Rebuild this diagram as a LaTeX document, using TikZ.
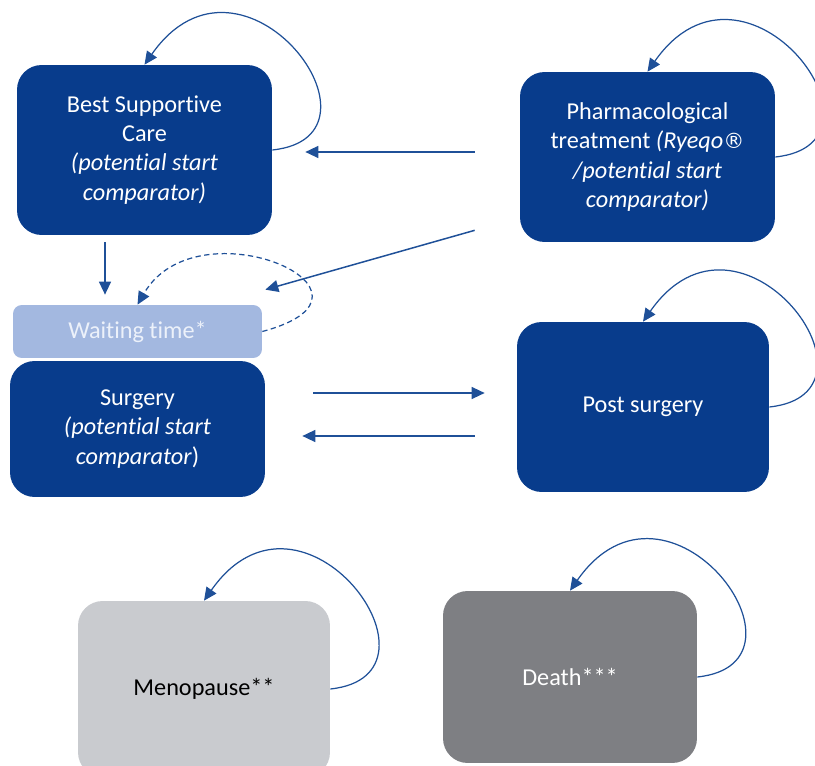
\documentclass[tikz,border=0pt]{standalone}
\usepackage{fontspec}
\setmainfont{Carlito}[Ligatures=NoCommon]
\newfontfamily\regfont{DejaVu Sans}
\usepackage{tikz}
\usetikzlibrary{arrows.meta,calc}
\definecolor{boxblue}{RGB}{8,60,140}
\definecolor{lineblue}{RGB}{31,80,152}
\definecolor{waitblue}{RGB}{163,184,224}
\definecolor{waittext}{RGB}{236,241,250}
\definecolor{menogrey}{RGB}{201,203,207}
\definecolor{deathgrey}{RGB}{126,127,131}
\tikzset{
  font={\fontsize{13.8pt}{16.6pt}\selectfont}}

\begin{document}
\begin{tikzpicture}[x=0.02cm,y=0.02cm]
\tikzstyle{every node}+=[inner sep=0pt]
\tikzstyle{statebox}=[fill=boxblue, rounded corners=14pt, text=white, align=center, minimum width=5.1cm, minimum height=3.4cm]
\tikzstyle{waitbox}=[fill=waitblue, rounded corners=5pt, text=waittext, align=center, minimum width=4.98cm, minimum height=1.06cm]
\tikzstyle{flow}=[lineblue, line width=0.85pt, -{Triangle[length=7.4pt,width=6.8pt]}]
\tikzstyle{selfloop}=[flow, line width=0.7pt, out=6, in=55, out looseness=2.15, in looseness=2.84]
\tikzstyle{waitloop}=[flow, line width=0.7pt, dash pattern=on 3pt off 2pt, out=15, in=60, out looseness=3.0, in looseness=2.4]
\useasboundingbox (0,0) rectangle (815,765);
% states
\node[statebox] (bsc) at (144.5,615) {Best Supportive\\Care\\\textit{(potential start}\\\textit{comparator)}};
\node[statebox] (pharm) at (647.5,608) {Pharmacological\\treatment \textit{(Ryeqo{\regfont\upshape\fontsize{12pt}{12pt}\selectfont ®}}\\\textit{/potential start}\\\textit{comparator)}};
\node[waitbox] (waiting) at (137.5,433.5) {Waiting time*};
\node[statebox, minimum height=2.72cm] (surgery) at (137.5,336) {Surgery\\\textit{(potential start}\\\textit{comparator})};
\node[statebox, minimum width=5.04cm] (post) at (643,358) {Post surgery};
\node[statebox, fill=menogrey, text=black, minimum width=5.04cm, minimum height=3.52cm] (meno) at (204,76) {Menopause**};
\node[statebox, fill=deathgrey, minimum width=5.08cm, minimum height=3.44cm] (death) at (570,88) {Death***};
% transitions
\draw[flow] ($(pharm.west)+(-45,5)$) -- ($(bsc.east)+(33,-2)$);
\draw[flow] ($(pharm.south west)+(-45,12)$) -- ($(waiting.north east)+(3,15)$);
\draw[flow] ($(bsc.south)+(-39.5,-7)$) -- ($(waiting.north)+(-32.5,10)$);
\draw[flow] ($(surgery.east)+(48,36)$) -- ($(post.west)+(-32,14)$);
\draw[flow] ($(post.west)+(-42,-29)$) -- ($(surgery.east)+(37,-7)$);
% loops
\draw[selfloop] (bsc.east) to (bsc.north);
\draw[selfloop] (pharm.east) to (pharm.north);
\draw[selfloop] (post.east) to (post.north);
\draw[selfloop] (meno.east) to (meno.north);
\draw[selfloop] (death.east) to (death.north);
\draw[waitloop] (waiting.east) to (waiting.north);
\end{tikzpicture}
\end{document}
